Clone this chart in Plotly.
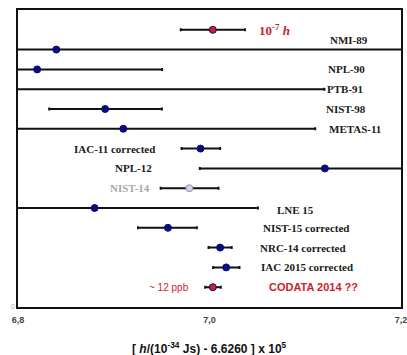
import plotly.graph_objects as go

# ---- data ----
labels = ["10<sup>-7</sup> <i>h</i>", "NMI-89", "NPL-90", "PTB-91", "NIST-98", "METAS-11",
          "IAC-11 corrected", "NPL-12", "NIST-14", "LNE 15", "NIST-15 corrected",
          "NRC-14 corrected", "IAC 2015 corrected", "CODATA 2014 ??"]
values = [7.0035, 6.840, 6.820, 6.700, 6.891, 6.910, 6.9906, 7.1205, 6.979, 6.880,
          6.9566, 7.0111, 7.0174, 7.0035]
err_plus = [0.0335, 0.50, 0.1305, 0.4200, 0.0593, 0.2004, 0.0205, 0.1300, 0.0304, 0.1707,
            0.0302, 0.0121, 0.0139, 0.0083]
err_minus = [0.0335, 0.50, 0.1305, 0.4200, 0.0584, 0.2004, 0.0198, 0.1306, 0.030, 0.1707,
             0.0313, 0.0121, 0.0136, 0.0080]
rows = [14, 13, 12, 11, 10, 9, 8, 7, 6, 5, 4, 3, 2, 1]
x_ticks = [6.8, 7.0, 7.2]
x_ticktext = ["6,8", "7,0", "7,2"]

# ---- styles / layout ----
NAVY = "#0a0a7a"
RED = "#d01c2c"
marker_colors = [RED] + [NAVY] * 7 + ["#d4d4e6"] + [NAVY] * 4 + [RED]
marker_lines = [NAVY] * 8 + ["#8f8fae"] + [NAVY] * 5
label_x = [7.05, 7.1458, 7.143, 7.142, 7.143, 7.1516, 6.901, 6.921, 6.917, 7.0896,
           7.1005, 7.098, 7.102, 7.109]
label_y = [14, 13.48, 12, 11, 10, 9, 8, 7, 6, 4.88, 4, 3, 2, 1]
label_colors = [RED] + ["#1a1a1a"] * 7 + ["#a8a8a8"] + ["#1a1a1a"] * 4 + [RED]

fig = go.Figure()
fig.add_trace(go.Scatter(
    x=values, y=rows, mode="markers",
    marker=dict(size=7, color=marker_colors, line=dict(color=marker_lines, width=1)),
    error_x=dict(type="data", symmetric=False, array=err_plus, arrayminus=err_minus,
                 color="#111111", thickness=2, width=1.5),
    cliponaxis=True, showlegend=False, hoverinfo="skip",
))

for i, lab in enumerate(labels):
    if i == 0:
        fig.add_annotation(x=label_x[i], y=label_y[i], text="<b>" + lab + "</b>",
                           xanchor="left", showarrow=False,
                           font=dict(family="Liberation Serif", size=13, color=RED))
    elif i == len(labels) - 1:
        fig.add_annotation(x=label_x[i], y=label_y[i], text="<b>" + lab + "</b>",
                           xanchor="center", showarrow=False,
                           font=dict(family="Liberation Sans", size=11, color=RED))
    else:
        fig.add_annotation(x=label_x[i], y=label_y[i], text="<b>" + lab + "</b>",
                           xanchor="center", showarrow=False,
                           font=dict(family="Liberation Serif", size=11, color=label_colors[i]))

fig.add_annotation(x=6.958, y=1, text="~ 12 ppb", showarrow=False,
                   font=dict(family="Liberation Sans", size=10, color=RED))

fig.add_annotation(xref="paper", yref="paper", x=0.5, y=0, yshift=-31,
                   text="<b>[ <i>h</i>/(10<sup>-34</sup> Js) - 6.6260 ] x 10<sup>5</sup></b>",
                   showarrow=False, yanchor="top",
                   font=dict(family="Liberation Sans", size=12, color="#111111"))

fig.update_xaxes(range=[6.8, 7.2], tickvals=x_ticks, ticktext=["<b>" + t + "</b>" for t in x_ticktext],
                 showgrid=False, zeroline=False, showline=True, mirror=True,
                 linecolor="#111111", linewidth=2, ticks="", ticklabeloverflow="allow",
                 ticklabelstandoff=3,
                 tickfont=dict(family="Liberation Sans", size=9, color="#444444"))
fig.update_yaxes(range=[0, 15], tickvals=[0], ticktext=["0"],
                 showgrid=False, zeroline=False, showline=True, mirror=True,
                 linecolor="#111111", linewidth=2, ticks="",
                 tickfont=dict(family="Liberation Sans", size=7, color="#aaaaaa"))

fig.update_layout(width=407, height=355, margin=dict(l=18, r=6, t=10, b=48, autoexpand=False),
                  plot_bgcolor="white", paper_bgcolor="white")

fig.write_html("out.html", config={"displayModeBar": False},
               post_script="document.body.style.margin='0';")
